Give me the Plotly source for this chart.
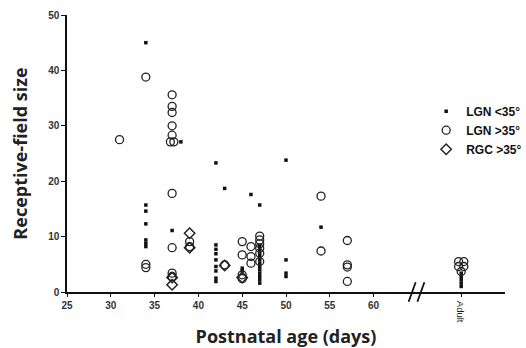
import plotly.graph_objects as go

# LGN <35 deg (filled small squares)
lgn_small_x = [34, 34, 34, 34, 34, 34, 34,
               37, 38,
               42, 42, 42, 42, 42, 42, 42, 42, 42,
               43, 45, 45, 46,
               47, 47, 47, 47, 47, 47, 47, 47, 47, 47, 47, 47, 47,
               50, 50, 50, 50,
               54,
               70, 70, 70, 70, 70]
lgn_small_y = [45.0, 15.7, 14.6, 12.3, 9.4, 8.8, 8.2,
               11.1, 27.1,
               23.3, 8.5, 7.7, 6.9, 5.8, 4.6, 3.8, 2.5, 1.9,
               18.7, 4.3, 3.8, 17.6,
               15.7, 8.2, 7.6, 7.0, 6.4, 5.8, 5.2, 4.6, 4.0, 3.4, 2.8, 2.2, 1.6,
               23.8, 5.8, 3.4, 2.8,
               11.7,
               3.4, 2.8, 2.2, 1.6, 1.0]

# LGN >35 deg (open circles)
lgn_large_x = [31,
               34, 34, 34,
               37, 37, 37, 37, 37, 36.8, 37.2, 37, 37, 37, 37,
               39, 39,
               43,
               45, 45, 45, 45,
               46, 46, 46,
               47, 47, 47, 47, 47, 47,
               54, 54,
               57, 57, 57, 57,
               69.7, 70.3, 69.7, 70.3, 70.0]
lgn_large_y = [27.5,
               38.8, 5.0, 4.4,
               35.6, 33.5, 32.4, 30.0, 28.3, 27.1, 27.1, 17.8, 8.0, 3.4, 2.8,
               9.1, 8.2,
               4.9,
               9.1, 6.7, 3.1, 2.4,
               8.2, 6.4, 5.2,
               10.1, 9.4, 8.7, 7.9, 7.0, 5.5,
               17.3, 7.4,
               9.3, 4.9, 4.5, 1.9,
               5.5, 5.5, 4.6, 4.6, 3.7]

# RGC >35 deg (open diamonds)
rgc_x = [37, 37, 39, 39, 43, 45]
rgc_y = [1.3, 2.6, 10.6, 8.0, 4.8, 2.6]

x_tickvals = [25, 30, 35, 40, 45, 50, 55, 60, 70]
x_ticktext = ["25", "30", "35", "40", "45", "50", "55", "60", ""]
y_tickvals = [0, 10, 20, 30, 40, 50]

tick_font = dict(family="Liberation Sans, Arial", size=10, color="#333", weight="bold")
title_font = dict(family="Open Sans", size=18, color="#222", weight="bold")

fig = go.Figure()
fig.add_trace(go.Scatter(x=lgn_small_x, y=lgn_small_y, mode="markers", name="LGN <35°",
                         marker=dict(symbol="square", size=3.5, color="#111")))
fig.add_trace(go.Scatter(x=lgn_large_x, y=lgn_large_y, mode="markers", name="LGN >35°",
                         marker=dict(symbol="circle-open", size=8, color="#222",
                                     line=dict(width=1.3, color="#222"))))
fig.add_trace(go.Scatter(x=rgc_x, y=rgc_y, mode="markers", name="RGC >35°",
                         marker=dict(symbol="diamond-open", size=8, color="#222",
                                     line=dict(width=1.5, color="#222"))))

# axis break marks
for xb in (64.4, 65.4):
    fig.add_shape(type="line", xref="x", yref="paper", x0=xb - 0.4, x1=xb + 0.4,
                  y0=-0.035, y1=0.035, line=dict(color="#111", width=1.8))

fig.add_annotation(x=70, y=0, xref="x", yref="paper", yshift=-7, text="Adult",
                   textangle=90, showarrow=False, yanchor="top",
                   font=dict(family="Liberation Sans, Arial", size=9.5, color="#222"))

fig.update_layout(
    width=526, height=348,
    margin=dict(l=67, r=21, t=15, b=56, autoexpand=False),
    paper_bgcolor="white", plot_bgcolor="white",
    showlegend=True,
    legend=dict(x=0.82, y=0.705, xanchor="left", yanchor="top",
                font=dict(family="Liberation Sans, Arial", size=12, color="#111", weight="bold"),
                bgcolor="rgba(0,0,0,0)", tracegroupgap=0, itemsizing="trace",
                itemwidth=30),
    xaxis=dict(range=[25, 75], tickvals=x_tickvals, ticktext=x_ticktext,
               showline=True, linecolor="#111", linewidth=1.5, showgrid=False, zeroline=False,
               ticks="outside", ticklen=3, tickcolor="#111", tickfont=tick_font,
               title=dict(text="Postnatal age (days)", font=title_font, standoff=23)),
    yaxis=dict(range=[0, 50], tickvals=y_tickvals,
               showline=True, linecolor="#111", linewidth=1.5, showgrid=False, zeroline=False,
               ticks="outside", ticklen=4, tickcolor="#111", tickfont=tick_font,
               title=dict(text="Receptive-field size", font=title_font, standoff=16)),
)

fig.write_html("out.html")
